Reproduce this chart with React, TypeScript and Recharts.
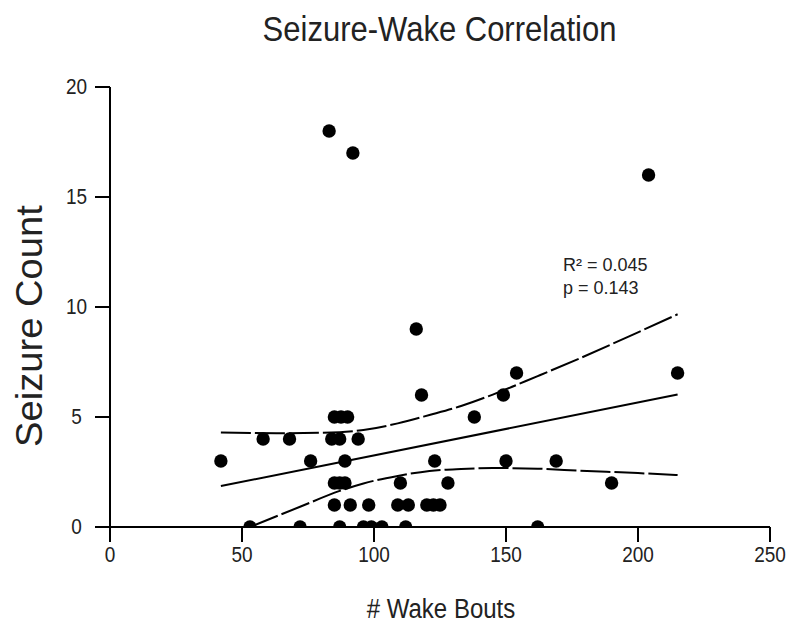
import React from 'react';
import { ComposedChart, Scatter, Line, XAxis, YAxis } from 'recharts';

// Observed data points (# wake bouts vs seizure count)
const wakeBouts = [
  53, 72, 87, 96, 99, 103, 112, 162,
  85, 91, 98, 109, 113, 120, 122.5, 125,
  85, 87, 89, 110, 128, 190,
  42, 76, 89, 123, 150, 169,
  58, 68, 84, 87, 94,
  85, 87.5, 90, 138,
  118, 149,
  154, 215,
  116, 204, 92, 83,
];
const seizureCounts = [
  0, 0, 0, 0, 0, 0, 0, 0,
  1, 1, 1, 1, 1, 1, 1, 1,
  2, 2, 2, 2, 2, 2,
  3, 3, 3, 3, 3, 3,
  4, 4, 4, 4, 4,
  5, 5, 5, 5,
  6, 6,
  7, 7,
  9, 16, 17, 18,
];

// Regression fit line
const fitX = [42, 215];
const fitY = [1.86, 6.02];

// Confidence band
const upperX = [42, 63, 87, 96, 109, 121, 133, 145, 162, 178, 200, 215];
const upperY = [4.3, 4.26, 4.31, 4.41, 4.71, 5.09, 5.5, 6.02, 6.86, 7.67, 8.85, 9.67];
const lowerX = [53, 72, 87, 96, 109, 121, 133, 145, 162, 178, 200, 215];
const lowerY = [0, 0.92, 1.64, 1.98, 2.32, 2.55, 2.64, 2.68, 2.65, 2.56, 2.45, 2.36];

const xTicks = [0, 50, 100, 150, 200, 250];
const yTicks = [0, 5, 10, 15, 20];

const title = 'Seizure-Wake Correlation';
const xLabel = '# Wake Bouts';
const yLabel = 'Seizure Count';
const statLines = ['R\u00B2 = 0.045', 'p = 0.143'];

const points = wakeBouts.map((x, i) => ({ x, y: seizureCounts[i] }));
const fitData = fitX.map((x, i) => ({ x, y: fitY[i] }));
const upperData = upperX.map((x, i) => ({ x, y: upperY[i] }));
const lowerData = lowerX.map((x, i) => ({ x, y: lowerY[i] }));

const FONT = '"Liberation Sans", Arial, Helvetica, sans-serif';
const TEXT = '#222';

const XTick = (props: any) => {
  const { x, y, payload } = props;
  return (
    <g transform={`translate(${x},${y + 2}) scale(1,1.12)`}>
      <text x={0} y={0} dy={14} textAnchor="middle" fontSize={19} fill={TEXT} fontFamily={FONT}>
        {payload.value}
      </text>
    </g>
  );
};

const YTick = (props: any) => {
  const { y, payload } = props;
  return (
    <g transform={`translate(76.5,${y}) scale(1,1.12)`}>
      <text x={0} y={0} dy={6.5} textAnchor="middle" fontSize={19} fill={TEXT} fontFamily={FONT}>
        {payload.value}
      </text>
    </g>
  );
};

const Dot = (props: any) => {
  const { cx, cy } = props;
  return <circle cx={cx} cy={cy} r={6.7} fill="#000" />;
};

export default function App() {
  return (
    <div style={{ position: 'absolute', left: 0, top: 0, width: 789, height: 623, background: '#fff', fontFamily: FONT }}>
      <ComposedChart
        width={789}
        height={623}
        margin={{ top: 87, right: 19, left: 0, bottom: 0 }}
      >
        <XAxis
          type="number"
          dataKey="x"
          domain={[0, 250]}
          ticks={xTicks}
          interval={0}
          height={96}
          tickSize={15}
          axisLine={{ stroke: '#000', strokeWidth: 2 }}
          tickLine={{ stroke: '#000', strokeWidth: 2 }}
          tick={<XTick />}
          allowDataOverflow
        />
        <YAxis
          type="number"
          dataKey="y"
          domain={[0, 20]}
          ticks={yTicks}
          interval={0}
          width={110}
          tickSize={15}
          axisLine={{ stroke: '#000', strokeWidth: 2 }}
          tickLine={{ stroke: '#000', strokeWidth: 2 }}
          tick={<YTick />}
          allowDataOverflow
        />
        <Line
          data={upperData}
          dataKey="y"
          type="monotone"
          stroke="#000"
          strokeWidth={2}
          strokeDasharray="30 4"
          dot={false}
          activeDot={false}
          isAnimationActive={false}
        />
        <Line
          data={lowerData}
          dataKey="y"
          type="monotone"
          stroke="#000"
          strokeWidth={2}
          strokeDasharray="30 4"
          dot={false}
          activeDot={false}
          isAnimationActive={false}
        />
        <Line
          data={fitData}
          dataKey="y"
          type="linear"
          stroke="#000"
          strokeWidth={2}
          dot={false}
          activeDot={false}
          isAnimationActive={false}
        />
        <Scatter data={points} dataKey="y" shape={<Dot />} isAnimationActive={false} />
      </ComposedChart>

      <div style={{ position: 'absolute', left: 0, width: 789, top: 11, paddingLeft: 90, boxSizing: 'border-box', textAlign: 'center', fontSize: 31, color: TEXT, lineHeight: '36px', transform: 'scaleY(1.15)', whiteSpace: 'nowrap' }}>
        {title}
      </div>
      <div style={{ position: 'absolute', left: 241, width: 400, top: 595, textAlign: 'center', fontSize: 24, color: TEXT, lineHeight: '28px', transform: 'scaleY(1.15)', whiteSpace: 'nowrap' }}>
        {xLabel}
      </div>
      <div style={{ position: 'absolute', left: 30 - 150, width: 300, top: 326 - 22, height: 44, textAlign: 'center', fontSize: 36, color: TEXT, lineHeight: '44px', transform: 'rotate(-90deg) scaleX(1.06)', whiteSpace: 'nowrap' }}>
        {yLabel}
      </div>
      <div style={{ position: 'absolute', left: 563, top: 254, fontSize: 18, color: TEXT, lineHeight: '23px', whiteSpace: 'nowrap' }}>
        {statLines.map((s) => (
          <div key={s}>{s}</div>
        ))}
      </div>
    </div>
  );
}
